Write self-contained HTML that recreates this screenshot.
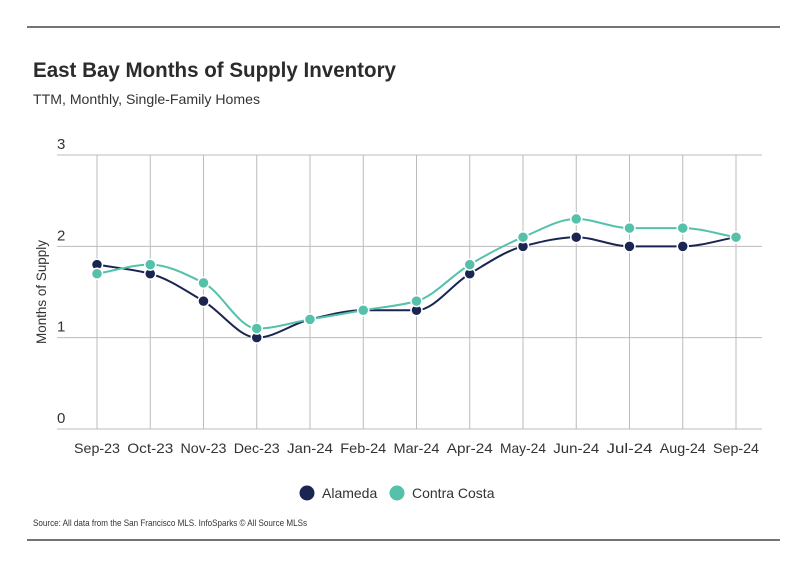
<!DOCTYPE html>
<html><head><meta charset="utf-8"><style>
body{margin:0;background:#fff;width:799px;height:575px;overflow:hidden;font-family:"Liberation Sans",sans-serif}
svg{display:block}
</style></head><body>
<svg id="chart" width="799" height="575">
<line x1="27" y1="27" x2="780" y2="27" stroke="#222" stroke-width="1.2"/>
<text x="33" y="77" font-size="21" font-weight="bold" fill="#2b2b2b" textLength="363" lengthAdjust="spacingAndGlyphs">East Bay Months of Supply Inventory</text>
<text x="33" y="104" font-size="14" fill="#333" textLength="227" lengthAdjust="spacingAndGlyphs">TTM, Monthly, Single-Family Homes</text>
<g id="grid"></g>
<g id="series"></g>
<text transform="translate(46,292) rotate(-90)" text-anchor="middle" font-size="14" fill="#333" textLength="104" lengthAdjust="spacingAndGlyphs">Months of Supply</text>
<g>
<circle cx="307" cy="493" r="7.5" fill="#1a2552"/>
<text x="322" y="498" font-size="14" fill="#333">Alameda</text>
<circle cx="397" cy="493" r="7.5" fill="#56c1aa"/>
<text x="412" y="498" font-size="14" fill="#333">Contra Costa</text>
</g>
<text x="33" y="526" font-size="9.5" fill="#333" textLength="274" lengthAdjust="spacingAndGlyphs">Source:  All data from the San Francisco MLS. InfoSparks © All Source MLSs</text>
<line x1="27" y1="540" x2="780" y2="540" stroke="#222" stroke-width="1.2"/>
</svg>
<script>
const categories=["Sep-23","Oct-23","Nov-23","Dec-23","Jan-24","Feb-24","Mar-24","Apr-24","May-24","Jun-24","Jul-24","Aug-24","Sep-24"];
const alameda=[1.8,1.7,1.4,1.0,1.2,1.3,1.3,1.7,2.0,2.1,2.0,2.0,2.1];
const contraCosta=[1.7,1.8,1.6,1.1,1.2,1.3,1.4,1.8,2.1,2.3,2.2,2.2,2.1];
const yTicks=[0,1,2,3];
const NS="http://www.w3.org/2000/svg";
const x0=97,x1=736,yBase=429,yTop=155,yMax=3;
function xs(i){return x0+i*(x1-x0)/(categories.length-1);}
function ys(v){return yBase-v*(yBase-yTop)/yMax;}
function mk(tag,attrs,parent){const e=document.createElementNS(NS,tag);for(const k in attrs)e.setAttribute(k,attrs[k]);parent.appendChild(e);return e;}
const grid=document.getElementById('grid');
yTicks.forEach(t=>{
  const l=mk('line',{x1:57,x2:762,y1:ys(t),y2:ys(t),stroke:'#bbb','stroke-width':1},grid);
  
  
  const tx=mk('text',{x:57,y:ys(t)-6,'font-size':15,fill:'#333'},grid);
  tx.textContent=t;
  
  
});
categories.forEach((c,i)=>{
  const l=mk('line',{x1:xs(i),x2:xs(i),y1:yTop,y2:yBase,stroke:'#bbb','stroke-width':1},grid);
  
  
  const tx=mk('text',{x:xs(i),y:yBase+24,'font-size':14,fill:'#333','text-anchor':'middle',textLength:46,lengthAdjust:'spacingAndGlyphs'},grid);
  tx.textContent=c;
  
  
});
function monotonePath(pts){
  const n=pts.length,d=[],m=[];
  for(let i=0;i<n-1;i++)d.push((pts[i+1][1]-pts[i][1])/(pts[i+1][0]-pts[i][0]));
  for(let i=0;i<n;i++){
    if(i===0)m.push(d[0]);else if(i===n-1)m.push(d[n-2]);
    else m.push(d[i-1]*d[i]<=0?0:2/(1/d[i-1]+1/d[i]));
  }
  let p="M"+pts[0][0]+","+pts[0][1];
  for(let i=0;i<n-1;i++){
    const h=(pts[i+1][0]-pts[i][0])/3;
    p+=" C"+(pts[i][0]+h)+","+(pts[i][1]+m[i]*h)+" "+(pts[i+1][0]-h)+","+(pts[i+1][1]-m[i+1]*h)+" "+pts[i+1][0]+","+pts[i+1][1];
  }
  return p;
}
const sg=document.getElementById('series');
[[alameda,'#1a2552','alameda'],[contraCosta,'#56c1aa','contra-costa']].forEach(([vals,col,name])=>{
  const pts=vals.map((v,i)=>[xs(i),ys(v)]);
  const p=mk('path',{d:monotonePath(pts),fill:'none',stroke:col,'stroke-width':2},sg);
  
  
  pts.forEach(pt=>{
    const c=mk('circle',{cx:pt[0],cy:pt[1],r:5.5,fill:col,stroke:'#fff','stroke-width':1.5},sg);
    
    
  });
});
</script>
</body></html>
